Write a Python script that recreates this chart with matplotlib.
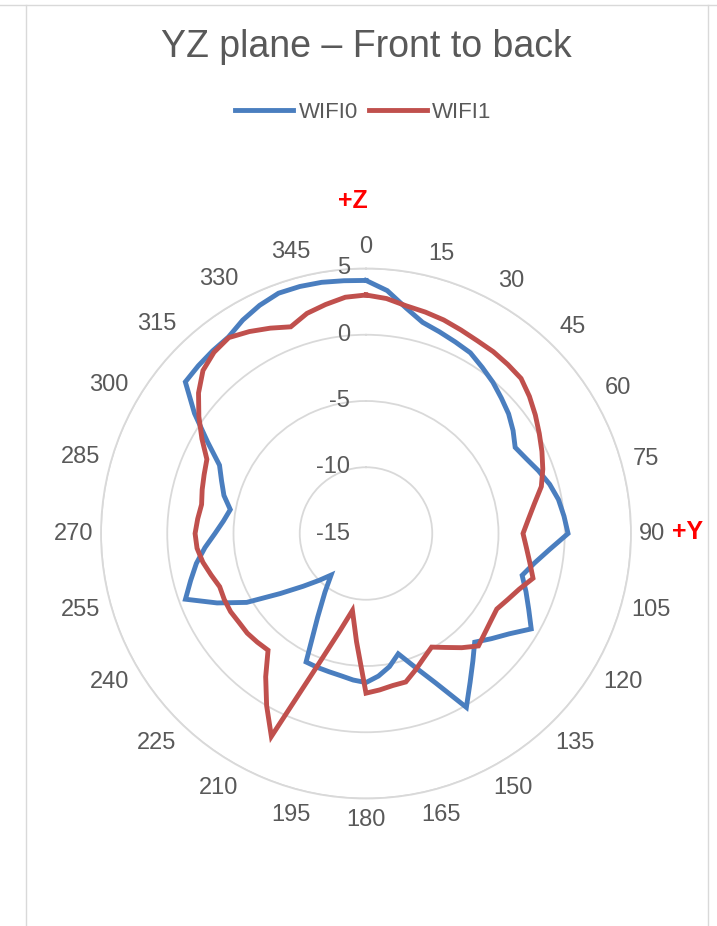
import numpy as np
import matplotlib.pyplot as plt
from matplotlib.lines import Line2D
from matplotlib.transforms import ScaledTranslation

plt.rcParams["font.family"] = ["Liberation Sans", "DejaVu Sans"]

TITLE = "YZ plane – Front to back"
SERIES_NAMES = ["WIFI0", "WIFI1"]

ANGLES_DEG = list(range(0, 360, 5))
WIFI0 = [
    4.1, 3.4, 2.3, 1.5, 1.2, 0.95, 0.75, 0.3, -0.1, -0.55, -0.95, -1.45,
    -2.0, -1.65, -1.15, -0.65, -0.25, 0.0, 0.25, -1.1, -2.1, -2.8, -2.15, -1.45,
    -0.6, -1.8, -2.65, -3.4, -2.45, -1.3, 0.15, -2.55, -4.3, -5.6, -4.8, -4.2,
    -3.75, -3.9, -4.1, -4.2, -4.25, -4.3, -7.7, -9.6, -10.9, -10.0, -8.8, -7.1,
    -4.6, -2.6, -0.5, -1.3, -2.0, -2.8, -3.6, -4.2, -4.6, -3.9, -3.4, -2.8,
    -1.2, 0.8, 2.8, 2.9, 3.0, 3.1, 3.6, 4.0, 4.3, 4.3, 4.25, 4.15,
]
WIFI1 = [
    3.0, 2.8, 2.45, 2.3, 2.15, 1.95, 1.8, 1.75, 1.65, 1.55, 1.1, 0.6,
    0.1, -0.35, -0.8, -1.3, -2.1, -2.7, -3.15, -2.85, -2.45, -1.95, -2.7, -3.2,
    -3.6, -3.5, -3.3, -3.0, -3.75, -4.5, -5.1, -4.65, -4.05, -3.4, -3.35, -3.15,
    -2.95, -6.8, -9.1, -7.4, -4.5, 1.9, 0.0, -1.8, -3.5, -3.4, -3.3, -3.3,
    -3.2, -3.2, -3.25, -2.9, -2.5, -2.2, -2.1, -2.25, -2.4, -2.2, -2.0, -1.75,
    -0.7, 0.4, 1.5, 2.4, 2.85, 3.05, 2.6, 2.1, 1.6, 2.2, 2.55, 2.9,
]
ANGLE_TICKS = list(range(0, 360, 15))
RADIAL_TICKS = [-15, -10, -5, 0, 5]

BLUE = "#4A7EBF"
RED = "#C0504D"
TEXT_GRAY = "#595959"
GRID_GRAY = "#D9D9D9"

W, H, DPI = 717, 926, 100
CX, CY, R = 366, 533.5, 265  # plot centre and radius in pixels

fig = plt.figure(figsize=(W / DPI, H / DPI), dpi=DPI)
ax = fig.add_axes([(CX - R) / W, 1 - (CY + R) / H, 2 * R / W, 2 * R / H],
                  projection="polar")
ax.set_theta_zero_location("N")
ax.set_theta_direction(-1)
ax.set_ylim(RADIAL_TICKS[0], RADIAL_TICKS[-1])

theta = np.deg2rad(ANGLES_DEG + [ANGLES_DEG[0]])
for name, vals, color in [(SERIES_NAMES[0], WIFI0, BLUE), (SERIES_NAMES[1], WIFI1, RED)]:
    ax.plot(theta, vals + [vals[0]], color=color, lw=3.5, label=name,
            solid_joinstyle="miter")

# rings only, no spokes
ax.set_yticks(RADIAL_TICKS[1:])
ax.set_yticklabels([])
ax.set_xticks([])
ax.yaxis.grid(True, color=GRID_GRAY, lw=1.3)
ax.xaxis.grid(False)
ax.tick_params(length=0)
ax.spines["polar"].set_color(GRID_GRAY)
ax.spines["polar"].set_linewidth(1.3)

# radial value labels, just left of the 0-degree spoke
shift = ScaledTranslation(-16 / DPI, 0, fig.dpi_scale_trans)
for v in RADIAL_TICKS:
    ax.text(0, v, str(v), transform=ax.transData + shift, ha="right", va="center",
            fontsize=17, color=TEXT_GRAY)

# angle labels outside the outer ring
scale = (RADIAL_TICKS[-1] - RADIAL_TICKS[0]) / R
for a in ANGLE_TICKS:
    t = np.deg2rad(a)
    s = str(a)
    w_px = 12.5 * len(s)
    d = R + 9 + abs(np.sin(t)) * w_px / 2 + abs(np.cos(t)) * 12.5
    ax.text(t, RADIAL_TICKS[0] + d * scale, s, ha="center", va="center",
            fontsize=17, color=TEXT_GRAY, clip_on=False)

fig.text(CX / W, 1 - 47 / H, TITLE, ha="center", va="center", fontsize=27,
         color=TEXT_GRAY)
fig.legend(loc="center", bbox_to_anchor=(363.5 / W, 1 - 112 / H), ncol=2,
           frameon=False, handlelength=2.6, handletextpad=0.25, columnspacing=0.5,
           fontsize=16, labelcolor=TEXT_GRAY)

fig.text(353 / W, 1 - 201 / H, "+Z", ha="center", va="center", fontsize=18,
         fontweight="bold", color="red")
fig.text(687.5 / W, 1 - 532 / H, "+Y", ha="center", va="center", fontsize=18,
         fontweight="bold", color="red")

# chart frame
fig.add_artist(Line2D([26 / W, 26 / W], [0, 1 - 5 / H], color=GRID_GRAY, lw=1,
                      transform=fig.transFigure))
fig.add_artist(Line2D([708 / W, 708 / W], [0, 1 - 5 / H], color=GRID_GRAY, lw=1,
                      transform=fig.transFigure))
fig.add_artist(Line2D([0, 1], [1 - 5 / H, 1 - 5 / H], color=GRID_GRAY, lw=1,
                      transform=fig.transFigure))

fig.savefig("out.png", dpi=DPI)
